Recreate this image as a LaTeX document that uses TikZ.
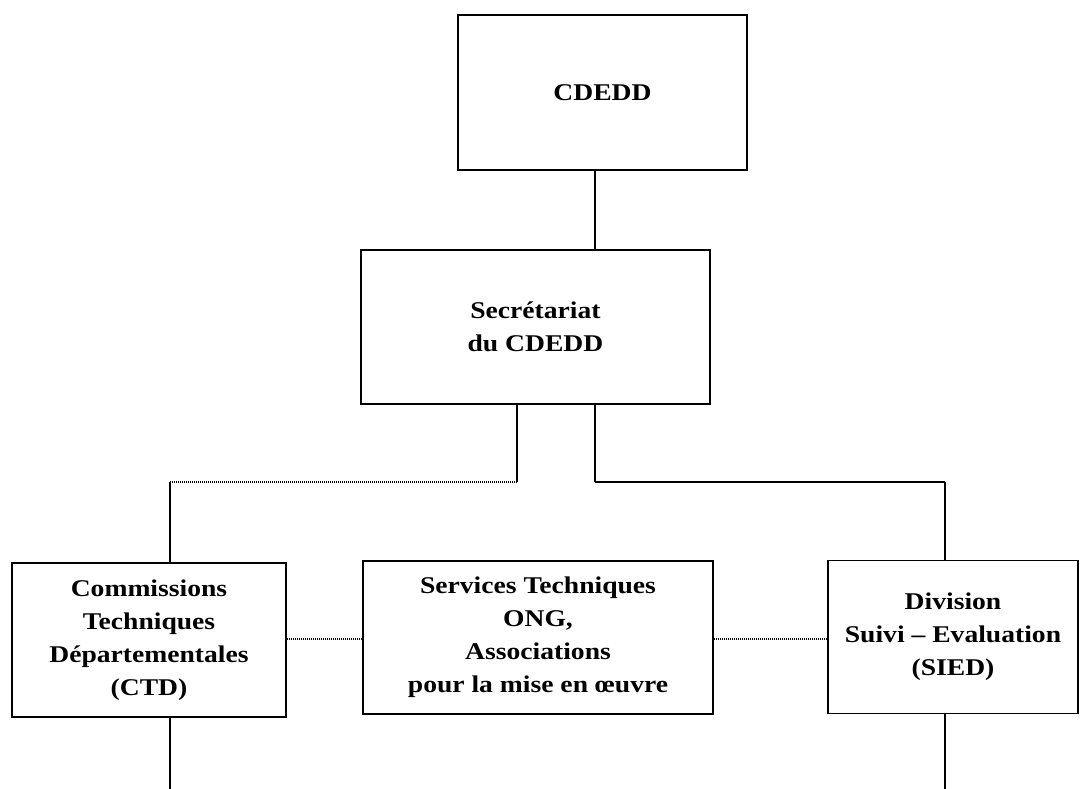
\documentclass[tikz,border=0pt]{standalone}
\usepackage{fontspec}
\setmainfont{Liberation Serif}[FakeStretch=1.15]
\begin{document}
\begin{tikzpicture}[x=1pt,y=-1pt]
		\tikzstyle{orgbox}=[draw,line width=1.8pt,align=center,inner sep=0pt,font=\bfseries\fontsize{24}{33}\selectfont]
		\tikzstyle{link}=[line width=1.9pt]
		\tikzstyle{thinlink}=[line width=1.2pt]
		\tikzstyle{dotlink}=[line width=1.1pt,dash pattern=on 1pt off 1pt]
		\useasboundingbox (0,0) rectangle (1088,789);

		% boxes
		\node[orgbox,minimum width=289pt,minimum height=155pt] (cdedd) at (602.5,92.5) {CDEDD};
		\node[orgbox,minimum width=349pt,minimum height=154pt] (secr) at (535.5,327) {Secrétariat\\du CDEDD};
		\node[orgbox,minimum width=274pt,minimum height=154pt] (ctd) at (149,640) {Commissions\\Techniques\\Départementales\\(CTD)};
		\node[orgbox,minimum width=350pt,minimum height=153pt] (serv) at (538,637.5) {Services Techniques\\ONG,\\Associations\\pour la mise en œuvre};
		\node[orgbox,minimum width=250pt,minimum height=153pt] (sied) at (953,637) {Division\\Suivi – Evaluation\\(SIED)};

		% elbows and loose ends
		\coordinate (a0) at (595,170);
		\coordinate (a1) at (595,250);
		\foreach \n / \x in {l/517,r/595} {
			\coordinate (\n0) at (\x,404);
			\coordinate (\n1) at (\x,482);
		}
		\coordinate (l2) at (170,482);
		\coordinate (l3) at (170,563);
		\coordinate (r2) at (945,482);
		\coordinate (r3) at (945,560);
		\coordinate (e0) at (170,717);
		\coordinate (e1) at (170,789);
		\coordinate (f0) at (945,713);
		\coordinate (f1) at (945,789);

		\draw[link] (a0) -- (a1);
		\draw[link] (l0) -- (l1);
		\draw[dotlink] (l1) -- (l2);
		\draw[link] (l2) -- (l3);
		\draw[link] (r0) -- (r1);
		\draw[thinlink] (r1) -- (r2);
		\draw[link] (r2) -- (r3);
		\draw[dotlink] (ctd.east |- 0,639) -- (serv.west |- 0,639);
		\draw[dotlink] (serv.east |- 0,639) -- (sied.west |- 0,639);
		\draw[thinlink] (e0) -- (e1);
		\draw[thinlink] (f0) -- (f1);
	\end{tikzpicture}
\end{document}
